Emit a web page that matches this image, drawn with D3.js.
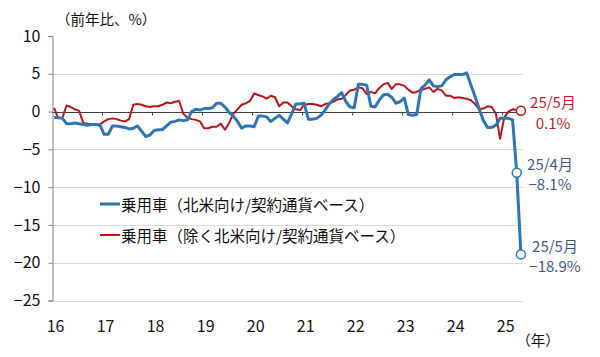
<!DOCTYPE html>
<html><head><meta charset="utf-8">
<script src="https://cdn.jsdelivr.net/npm/d3@7"></script>
<style>
html,body{margin:0;padding:0;background:#fff;}
text{font-family:"Noto Sans CJK JP","Noto Sans",sans-serif;}
</style></head>
<body><svg id="c" width="600" height="357"></svg>
<script>
// ---- data ----
const years = [2016,2017,2018,2019,2020,2021,2022,2023,2024,2025];
const yearLabels = ["16","17","18","19","20","21","22","23","24","25"];
const yTicks = [10,5,0,-5,-10,-15,-20,-25];
const seriesNames = ["乗用車（北米向け/契約通貨ベース）","乗用車（除く北米向け/契約通貨ベース）"];
// 北米向け (blue), monthly, Jan 2016 - May 2025
const blueValues = [
 -0.8,-0.8,-0.9,-1.6,-1.6,-1.5,-1.6,-1.7,-1.8,-1.7,-1.7,-1.8,
 -3.0,-3.0,-1.9,-1.9,-2.0,-2.1,-2.3,-2.2,-1.9,-2.6,-3.3,-3.1,
 -2.5,-2.4,-2.4,-1.9,-1.4,-1.3,-1.1,-1.2,-1.1,0.0,0.3,0.2,
 0.4,0.4,0.5,1.1,1.1,0.6,-0.1,-0.6,-1.3,-2.2,-1.9,-1.9,
 -2.0,-0.6,-0.6,-0.7,-1.3,-0.9,-0.5,-1.0,-1.5,-0.3,1.0,1.0,
 1.1,-1.0,-1.0,-0.9,-0.5,0.2,1.0,1.6,2.0,2.5,1.3,0.6,
 0.5,3.6,3.6,3.5,0.7,0.6,1.5,2.2,2.3,1.9,1.1,1.3,
 1.8,-0.4,-0.5,-0.4,3.0,3.5,4.2,3.4,3.3,3.4,4.2,4.6,
 4.9,4.9,4.9,5.1,3.5,2.0,0.3,-1.2,-2.1,-2.1,-1.8,-0.9,
 -0.9,-0.9,-1.1,-8.1,-18.9
];
// 除く北米向け (red)
const redValues = [
 0.5,-0.9,-0.8,0.8,0.6,0.3,0.1,-1.5,-1.6,-1.7,-1.7,-1.7,
 -1.3,-1.0,-0.9,-1.0,-1.2,-1.3,-1.0,0.9,1.0,0.9,0.7,0.6,
 0.7,0.7,0.9,1.2,1.1,1.3,1.4,-0.3,-0.8,-1.0,-1.1,-1.3,
 -2.2,-2.2,-2.0,-2.0,-1.6,-2.4,-1.5,-0.3,0.3,0.9,1.1,1.4,
 2.4,2.2,2.0,1.7,2.1,1.9,0.7,1.2,1.2,0.7,0.3,0.2,
 0.9,1.0,1.0,0.9,0.7,1.0,1.1,1.3,1.6,1.7,2.2,2.8,
 2.9,3.2,3.1,2.3,2.6,2.4,3.1,3.6,3.8,3.0,3.6,3.6,
 3.4,2.9,2.5,2.6,2.9,3.0,3.2,2.6,3.0,2.8,2.1,2.1,
 1.8,1.9,1.8,1.7,1.5,1.0,0.3,0.4,0.7,0.6,-0.3,-3.6,
 -0.8,0.0,0.3,0.2,0.1
];
const annotations = [
 {series:"red", idx:112, l1:"25/5月", l2:"0.1%"},
 {series:"blue", idx:111, l1:"25/4月", l2:"−8.1%"},
 {series:"blue", idx:112, l1:"25/5月", l2:"−18.9%"}
];

// categories (months)
const categories = [];
years.forEach(y => { for (let m = 1; m <= 12; m++) categories.push(y + "-" + m); });
categories.length = blueValues.length;

// ---- drawing ----
const BLUE = "#2E75B6", RED = "#B8141E", BLUETXT = "#44587F", REDTXT = "#BE1E2D";
const svg = d3.select("#c");
const x = d3.scalePoint().domain(categories).range([52, 523]).padding(0.5);
const step = x.step();
const y = d3.scaleLinear().domain([-25, 10]).range([300.5, 36]);

// gridlines
svg.append("g").selectAll("line").data(yTicks.filter(v => v !== 0 && v !== 10)).join("line")
  .attr("x1", 52.5).attr("x2", 523).attr("y1", d => Math.round(y(d)) + 0.5).attr("y2", d => Math.round(y(d)) + 0.5)
  .attr("stroke", "#d9d9d9").attr("stroke-width", 1);

// y axis
const yAxis = d3.axisLeft(y).tickValues(yTicks).tickSize(4).tickPadding(8)
  .tickFormat(d => d < 0 ? "−" + Math.abs(d) : String(d));
const gy = svg.append("g").attr("transform", "translate(52.5,0)").call(yAxis);
gy.select(".domain").attr("stroke", "#7f7f7f");
gy.selectAll(".tick line").attr("stroke", "#7f7f7f");
gy.selectAll(".tick text").attr("font-size", 16).attr("fill", "#111")
  .style("font-family", '"Noto Sans CJK JP",sans-serif');

// zero line with year ticks
const y0 = Math.round(y(0)) + 0.5;
svg.append("line").attr("x1", 52.5).attr("x2", 523).attr("y1", y0).attr("y2", y0)
  .attr("stroke", "#404040").attr("stroke-width", 1);
const xAxis = d3.axisBottom(x).tickValues(years.slice(1).map(yy => yy + "-1")).tickSize(3).tickFormat("");
const gx = svg.append("g").attr("transform", `translate(${-step/2},${y0})`).call(xAxis);
gx.select(".domain").remove();
gx.selectAll(".tick line").attr("stroke", "#404040");

// x labels
svg.append("g").selectAll("text").data(years).join("text")
  .attr("x", (d) => x(d + "-1") + 1.5).attr("y", 325).attr("text-anchor", "middle")
  .attr("dominant-baseline", "central").attr("font-size", 16).attr("fill", "#111")
  .text((d, i) => yearLabels[i]);

// titles
svg.append("text").attr("x", 56).attr("y", 18).attr("dominant-baseline", "central")
  .attr("font-size", 14.5).attr("fill", "#111").text("（前年比、%）");
svg.append("text").attr("x", 538).attr("y", 339).attr("text-anchor", "middle").attr("dominant-baseline", "central")
  .attr("font-size", 14.5).attr("fill", "#111").text("（年）");

// lines
const line = d3.line().x((d, i) => x(categories[i])).y(d => y(d));
svg.append("path").datum(redValues).attr("d", line).attr("fill", "none")
  .attr("stroke", RED).attr("stroke-width", 2).attr("stroke-linejoin", "round");
svg.append("path").datum(blueValues).attr("d", line).attr("fill", "none")
  .attr("stroke", BLUE).attr("stroke-width", 3).attr("stroke-linejoin", "round");

// legend
const legend = svg.append("g");
[[BLUE, 3, 204], [RED, 2, 235]].forEach((c, i) => {
  legend.append("line").attr("x1", 100).attr("x2", 120).attr("y1", c[2]).attr("y2", c[2])
    .attr("stroke", c[0]).attr("stroke-width", c[1]);
  legend.append("text").attr("x", 121).attr("y", c[2]).attr("dominant-baseline", "central")
    .attr("font-size", 15.5).attr("fill", "#111").text(seriesNames[i]);
});

// annotations
annotations.forEach(a => {
  const vals = a.series === "blue" ? blueValues : redValues;
  const cx = x(categories[a.idx]), cy = y(vals[a.idx]);
  svg.append("circle").attr("cx", cx).attr("cy", cy).attr("r", 4.5)
    .attr("fill", "#fff").attr("stroke", a.series === "blue" ? BLUE : RED).attr("stroke-width", 1.5);
});
const annPos = [[553, 101, 122], [550, 163, 183], [555, 245, 265]];
annotations.forEach((a, i) => {
  const col = a.series === "blue" ? BLUETXT : REDTXT;
  const p = annPos[i];
  svg.append("text").attr("x", p[0]).attr("y", p[1]).attr("text-anchor", "middle").attr("dominant-baseline", "central")
    .attr("font-size", 15).attr("fill", col).text(a.l1);
  svg.append("text").attr("x", p[0]).attr("y", p[2]).attr("text-anchor", "middle").attr("dominant-baseline", "central")
    .attr("font-size", 15).attr("fill", col).text(a.l2);
});
</script></body></html>
